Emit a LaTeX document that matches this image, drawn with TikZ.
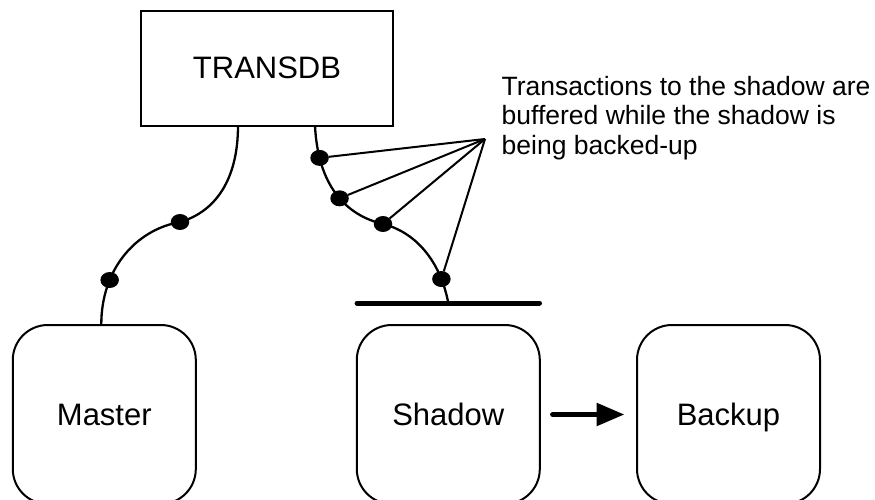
\documentclass[tikz,border=0pt]{standalone}
\usepackage{fontspec}
\setmainfont{Liberation Sans}
\usetikzlibrary{calc,arrows.meta,shapes.geometric}
\begin{document}
\begin{tikzpicture}[x=1pt,y=-1pt,
  sqbox/.style={draw,line width=2pt,inner sep=0pt,outer sep=0pt,
    minimum width=252pt,minimum height=115pt,font=\fontsize{31}{36}\selectfont},
  rbox/.style={draw,line width=2pt,rounded corners=35pt,inner sep=0pt,outer sep=0pt,
    minimum width=183pt,minimum height=179pt,text depth=0pt,
    font=\fontsize{31}{36}\selectfont},
  wire/.style={line width=2.3pt},
  ray/.style={line width=2pt},
  dot/.style={ellipse,fill=black,inner sep=0pt,outer sep=0pt,
    minimum width=18.5pt,minimum height=16pt},
  bar/.style={line width=5pt,line cap=round},
  flow/.style={line width=5.5pt,line cap=round,-{Triangle[length=28pt,width=22pt]}},
  note/.style={anchor=north west,align=left,inner sep=0pt,
    font=\fontsize{26.5}{29.5}\selectfont}
]
\useasboundingbox (0,0) rectangle (875,500);

\node[sqbox] (transdb) at (267,68.3) {TRANSDB};
\node[rbox] (master) at (104.3,414.5) {Master};
\node[rbox] (shadow) at (448.3,414.5) {Shadow};
\node[rbox] (backup) at (728.5,414.5) {Backup};

\coordinate (m0) at ($(transdb.south)+(-29,0)$);
\coordinate (m1) at ($(master.north)+(-3,0)$);
\coordinate (s0) at ($(transdb.south)+(48,0)$);
\coordinate (s1) at ($(shadow.north)+(0,-22)$);
\coordinate (barL) at ($(shadow.north west)+(0.3,-22)$);
\coordinate (barR) at ($(shadow.north east)+(-0.3,-22)$);
\coordinate (apex) at (485,139);

% Master link
\draw[wire] (m0) .. controls (238,180) and (215,212) .. (180,222)
  node[dot,pos=1] (md1) {}
  .. controls (135,230) and (101,270) .. (m1)
  node[dot,pos=0.7] (md2) {};

% Shadow link
\draw[wire] (s0) .. controls (318,185) and (345,215) .. (383,224)
  node[dot,pos=0.2] (sd1) {}
  node[dot,pos=0.55] (sd2) {}
  node[dot,pos=1] (sd3) {}
  .. controls (415,232) and (440,260) .. (s1)
  node[dot,pos=0.8] (sd4) {};

\draw[bar] (barL) -- (barR);

\draw[ray] (sd1) -- (apex);
\draw[ray] (sd2) -- (apex);
\draw[ray] (sd3) -- (apex);
\draw[ray] (sd4) -- (apex);

\node[note] (txt) at (501.5,76) {Transactions to the shadow are\\buffered while the shadow is\\being backed-up};

\draw[flow] ($(shadow.east)+(13,0)$) -- ($(backup.west)+(-12.5,0)$);
\end{tikzpicture}
\end{document}
